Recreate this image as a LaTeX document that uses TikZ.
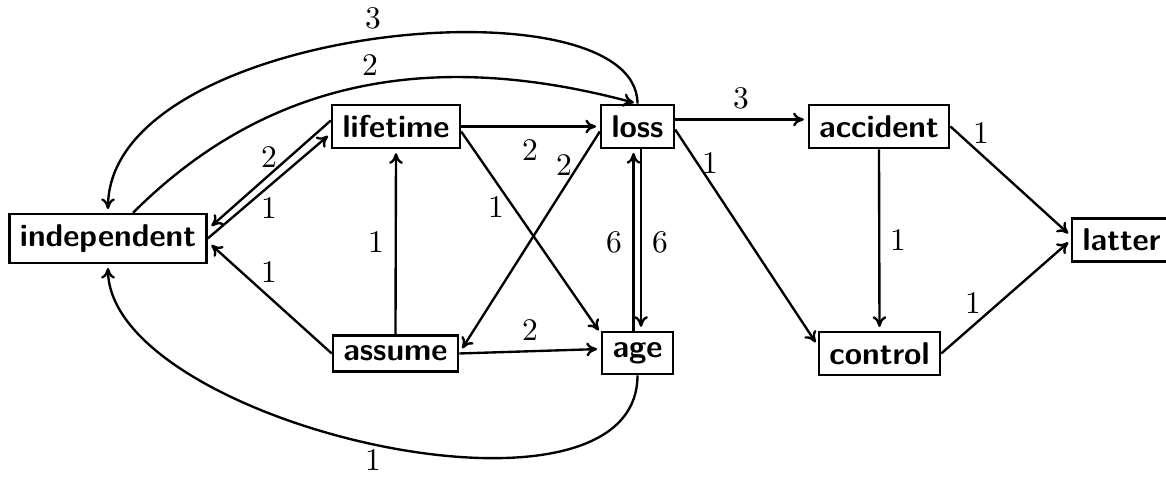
\documentclass[tikz,border=0pt]{standalone}
\usetikzlibrary{calc,arrows.meta}
\begin{document}
\begin{tikzpicture}[x=0.3175pt,y=-0.3175pt,
  box/.style={draw, line width=0.75pt, font=\sffamily\bfseries, inner sep=0.3333em},
  edge/.style={-{Computer Modern Rightarrow[length=3.4pt,width=4.4pt]}, line width=0.75pt, shorten >=1.2pt},
  lbl/.style={inner sep=0pt}]
\useasboundingbox (0,0) rectangle (1166,477);
\node[box] (independent) at (108,238.5) {independent};
\node[box] (lifetime) at (396,126.5) {lifetime};
\node[box] (loss) at (637.5,126.5) {loss};
\node[box] (accident) at (879,126.5) {accident};
\node[box] (assume) at (395.5,353.5) {assume};
\node[box] (age) at (637.5,353) {age};
\node[box] (control) at (879.5,353.5) {control};
\node[box, anchor=west] (latter) at (1071,240) {latter};

\draw[edge] ($(lifetime.west)+(0,-6)$) -- ($(independent.east)+(1,-10)$) node[lbl, at={(269,157)}] {2};
\draw[edge] (independent.east) -- ($(lifetime.west)+(0,7)$) node[lbl, at={(269,208)}] {1};
\draw[edge] (assume.west) -- ($(independent.east)+(1,4)$) node[lbl, at={(269,272)}] {1};
\draw[edge] (assume.north) -- (lifetime.south) node[lbl, at={(376,242)}] {1};
\draw[edge] (lifetime.east) -- (loss.west) node[lbl, at={(530,150)}] {2};
\draw[edge] ($(lifetime.east)+(0,5)$) -- ($(age.north west)+(0,3)$) node[lbl, at={(496,207)}] {1};
\draw[edge] ($(loss.west)+(0,5)$) -- ($(assume.east)+(1,-2)$) node[lbl, at={(564,165)}] {2};
\draw[edge] (assume.east) -- ($(age.west)+(0,-4)$) node[lbl, at={(530,330)}] {2};
\draw[edge] ($(age.north)+(-4,0)$) -- ($(loss.south)+(-4,0)$) node[lbl, at={(614,242)}] {6};
\draw[edge] ($(loss.south)+(3.5,0)$) -- ($(age.north)+(3.5,0)$) node[lbl, at={(660,242)}] {6};
\draw[edge] ($(loss.east)+(0,-7)$) -- ($(accident.west)+(0,-7)$) node[lbl, at={(741,98)}] {3};
\draw[edge] ($(loss.east)+(0,3)$) -- ($(control.west)+(0,-8)$) node[lbl, at={(710,163)}] {1};
\draw[edge] (accident.south) -- (control.north) node[lbl, at={(898,240)}] {1};
\draw[edge] (accident.east) -- ($(latter.west)+(0,-4)$) node[lbl, at={(981,133)}] {1};
\draw[edge] (control.east) -- (latter.west) node[lbl, at={(973,303)}] {1};

\draw[edge] (loss.north) .. controls +(0,-128) and +(0,-188) .. (independent.north) node[lbl, at={(373,18)}] {3};
\draw[edge] ($(independent.north)+(25,0)$) .. controls +(141,-141) and +(-193,-52) .. (loss.north) node[lbl, at={(370,65)}] {2};
\draw[edge] (age.south) .. controls +(0,171) and +(0,159) .. (independent.south) node[lbl, at={(373,460)}] {1};
\end{tikzpicture}
\end{document}
